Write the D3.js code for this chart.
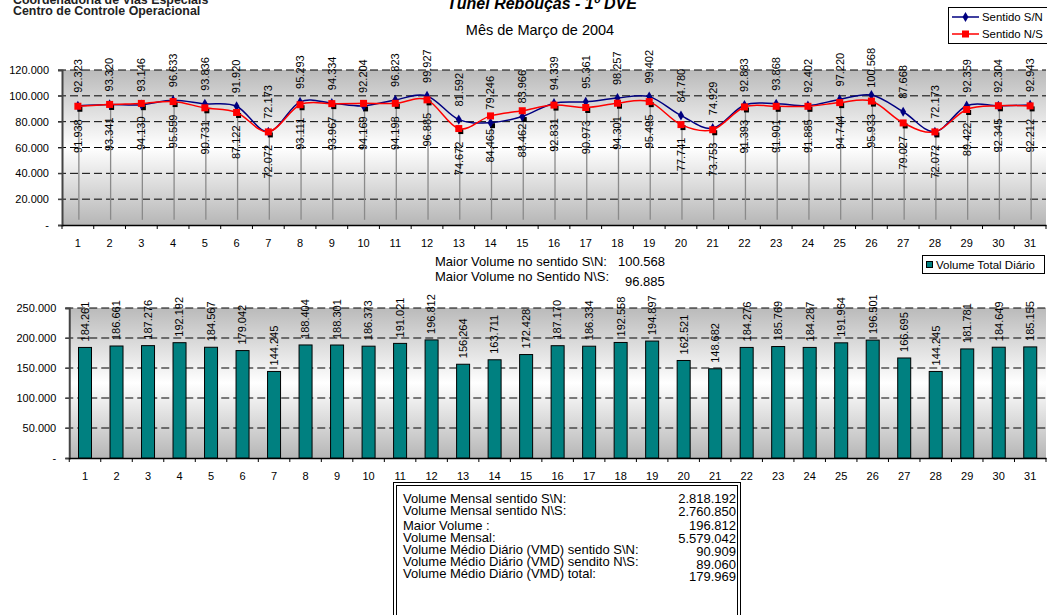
<!DOCTYPE html>
<html><head><meta charset="utf-8">
<script src="https://cdn.jsdelivr.net/npm/d3@7"></script>
<style>
body{margin:0;background:#fff;}
svg{display:block;font-family:"Liberation Sans",Arial,sans-serif;}
</style></head>
<body><svg id="c" width="1047" height="615"></svg>
<script>
const days = d3.range(1, 32).map(String);
const sentidoSN = [92323,93320,93146,96633,93836,91920,72173,95293,94334,92204,96823,99927,81592,79246,83966,94339,95361,98257,99402,84780,74929,92883,93868,92402,97220,100568,87668,72173,92359,92304,92943];
const sentidoNS = [91938,93341,94130,95559,90731,87122,72072,93111,93967,94169,94198,96885,74672,84465,88462,92831,90973,94301,95495,77741,73753,91393,91901,91885,94744,95933,79027,72072,89422,92345,92212];
const volumeTotal = [184261,186661,187276,192192,184567,179042,144245,188404,188301,186373,191021,196812,156264,163711,172428,187170,186334,192558,194897,162521,148682,184276,185769,184287,191964,196501,166695,144245,181781,184649,185155];
const topTicks = [0,20000,40000,60000,80000,100000,120000];
const bottomTicks = [0,50000,100000,150000,200000,250000];
const tableLabels = ["Volume Mensal sentido S\\N:","Volume Mensal sentido N\\S:","Maior Volume :","Volume Mensal:","Volume Médio Diário (VMD) sentido S\\N:","Volume Médio Diário (VMD) sendito N\\S:","Volume Médio Diário (VMD) total:"];
const tableValues = ["2.818.192","2.760.850","196.812","5.579.042","90.909","89.060","179.969"];
const seriesNames = ["Sentido S/N","Sentido N/S"];

const loc = d3.formatLocale({decimal:",",thousands:".",grouping:[3],currency:["",""]});
const fmt = loc.format(",d");
const tickFmt = v => v === 0 ? "-" : fmt(v);

const svg = d3.select("#c");
const defs = svg.append("defs");
const grad = defs.append("linearGradient").attr("id","bg").attr("x1",0).attr("y1",0).attr("x2",0).attr("y2",1);
grad.append("stop").attr("offset","0%").attr("stop-color","#bababa");
grad.append("stop").attr("offset","50%").attr("stop-color","#ffffff");
grad.append("stop").attr("offset","100%").attr("stop-color","#b6b6b6");

// header texts
svg.append("text").attr("x",13).attr("y",4).attr("font-weight","bold").attr("font-size",12.4).attr("fill","#222").text("Coordenadoria de Vias Especiais");
svg.append("text").attr("x",13).attr("y",15).attr("font-weight","bold").attr("font-size",12.4).attr("fill","#222").text("Centro de Controle Operacional");
svg.append("text").attr("x",542).attr("y",9).attr("text-anchor","middle").attr("font-weight","bold").attr("font-style","italic").attr("font-size",16).text("Túnel Rebouças - 1º DVE");
svg.append("text").attr("x",540).attr("y",35).attr("text-anchor","middle").attr("font-size",14.5).text("Mês de Março de 2004");

function frame(g, x, y, ticks, left, right, top, bottom) {
  g.append("rect").attr("x",left).attr("y",top).attr("width",right-left).attr("height",bottom-top).attr("fill","url(#bg)");
  ticks.filter(t=>t>0).forEach(t=>{
    g.append("line").attr("x1",left-4).attr("x2",right).attr("y1",y(t)).attr("y2",y(t))
      .attr("stroke","#000").attr("stroke-width",1).attr("stroke-dasharray","8,4");
  });
  const ya = g.append("g").attr("transform",`translate(${left},0)`)
    .call(d3.axisLeft(y).tickValues(ticks).tickFormat(tickFmt).tickSize(4).tickPadding(9));
  ya.select(".domain").attr("stroke","#444").attr("stroke-width",2);
  ya.selectAll(".tick line").attr("stroke","#444");
  ya.selectAll("text").attr("font-size",11).attr("font-family","Liberation Sans, Arial, sans-serif").attr("fill","#000");
  const xa = g.append("g").attr("transform",`translate(0,${bottom})`)
    .call(d3.axisBottom(x).tickSize(0).tickPadding(14));
  xa.select(".domain").attr("stroke","#000").attr("stroke-width",1.5);
  xa.selectAll("text").attr("font-size",11).attr("font-family","Liberation Sans, Arial, sans-serif").attr("fill","#000");
  g.selectAll(null).data(d3.range(0,32)).enter().append("line")
    .attr("x1",i=>left+i*x.step()).attr("x2",i=>left+i*x.step())
    .attr("y1",bottom).attr("y2",bottom+4).attr("stroke","#000");
}

// ---------- top chart ----------
const tL=62,tR=1046,tT=70,tB=225;
const xT = d3.scaleBand().domain(days).range([tL,tR]).padding(0);
const yT = d3.scaleLinear().domain([0,120000]).range([tB,tT]);
const gT = svg.append("g");
frame(gT,xT,yT,topTicks,tL,tR,tT,tB);
const cx = d => xT(d)+xT.bandwidth()/2;

days.forEach((d,i)=>{
  const m = Math.min(sentidoSN[i],sentidoNS[i]);
  gT.append("line").attr("x1",cx(d)+1).attr("x2",cx(d)+1).attr("y1",yT(m)+3).attr("y2",yT(4000))
    .attr("stroke","#8a8a8a").attr("stroke-width",1.3);
  gT.append("rect").attr("x",cx(d)-0.5).attr("y",yT(m)+0.5).attr("width",5).attr("height",5).attr("fill","#000");
});

const line = d3.line().x((v,i)=>cx(days[i])).y(v=>yT(v)).curve(d3.curveCardinal.tension(0));
gT.append("path").attr("d",line(sentidoSN)).attr("fill","none").attr("stroke","#000080").attr("stroke-width",1.5);
gT.append("path").attr("d",line(sentidoNS)).attr("fill","none").attr("stroke","#ff0000").attr("stroke-width",1.5);
gT.selectAll(null).data(sentidoSN).enter().append("path")
  .attr("d",d3.symbol(d3.symbolDiamond,30)).attr("transform",(v,i)=>`translate(${cx(days[i])},${yT(v)})`).attr("fill","#000080");
gT.selectAll(null).data(sentidoNS).enter().append("rect")
  .attr("x",(v,i)=>cx(days[i])-3.5).attr("y",v=>yT(v)-3.5).attr("width",7).attr("height",7).attr("fill","#ff0000");

const gap = 13;
sentidoSN.forEach((v,i)=>{
  const t = gT.append("text").attr("font-size",11).attr("dy","0.35em").attr("text-anchor","start").text(fmt(v));
  const len = t.node().getComputedTextLength();
  let yy = yT(v)-gap;
  if (yy-len < 48) yy = 48+len;
  t.attr("transform",`translate(${cx(days[i])},${yy}) rotate(-90)`);
});
sentidoNS.forEach((v,i)=>{
  gT.append("text").attr("font-size",11).attr("dy","0.35em").attr("text-anchor","end")
    .attr("transform",`translate(${cx(days[i])},${yT(v)+gap}) rotate(-90)`).text(fmt(v));
});

// legend top
const lg = svg.append("g");
lg.append("rect").attr("x",948.5).attr("y",7.5).attr("width",110).attr("height",36).attr("fill","#fff").attr("stroke","#000");
lg.append("line").attr("x1",952).attr("x2",979).attr("y1",17).attr("y2",17).attr("stroke","#000080").attr("stroke-width",1.5);
lg.append("path").attr("d",d3.symbol(d3.symbolDiamond,30)).attr("transform","translate(965.5,17)").attr("fill","#000080");
lg.append("text").attr("x",982).attr("y",21).attr("font-size",11.4).text(seriesNames[0]);
lg.append("line").attr("x1",952).attr("x2",979).attr("y1",34).attr("y2",34).attr("stroke","#ff0000").attr("stroke-width",1.5);
lg.append("rect").attr("x",962).attr("y",30.5).attr("width",7).attr("height",7).attr("fill","#ff0000");
lg.append("text").attr("x",982).attr("y",38).attr("font-size",11.4).text(seriesNames[1]);

// middle texts
svg.append("text").attr("x",435).attr("y",266).attr("font-size",13).text("Maior Volume no sentido S\\N:");
svg.append("text").attr("x",618).attr("y",266).attr("font-size",13).text(fmt(d3.max(sentidoSN)));
svg.append("text").attr("x",435).attr("y",281).attr("font-size",13).text("Maior Volume no Sentido N\\S:");
svg.append("text").attr("x",625).attr("y",286).attr("font-size",13).text(fmt(d3.max(sentidoNS)));

// ---------- bottom chart ----------
const bL=69.25,bR=1046,bT=308,bB=458;
const xB = d3.scaleBand().domain(days).range([bL,bR]).padding(0);
const yB = d3.scaleLinear().domain([0,250000]).range([bB,bT]);
const gB = svg.append("g");
frame(gB,xB,yB,bottomTicks,bL,bR,bT,bB);
const bw = 13;
gB.selectAll(null).data(volumeTotal).enter().append("rect")
  .attr("x",(v,i)=>xB(days[i])+xB.bandwidth()/2-bw/2).attr("y",v=>yB(v))
  .attr("width",bw).attr("height",v=>bB-yB(v))
  .attr("fill","#008080").attr("stroke","#000").attr("stroke-width",1);
gB.selectAll(null).data(volumeTotal).enter().append("text")
  .attr("font-size",11).attr("dy","0.35em").attr("text-anchor","start")
  .attr("transform",(v,i)=>`translate(${xB(days[i])+xB.bandwidth()/2},${yB(v)-6}) rotate(-90)`)
  .text(v=>fmt(v));

// legend bottom
const lb = svg.append("g");
lb.append("rect").attr("x",922.5).attr("y",255.5).attr("width",122).attr("height",18).attr("fill","#fff").attr("stroke","#000");
lb.append("rect").attr("x",926.5).attr("y",261.5).attr("width",6).attr("height",6).attr("fill","#008080").attr("stroke","#000");
lb.append("text").attr("x",936).attr("y",269).attr("font-size",11.5).text("Volume Total Diário");

// ---------- table ----------
const tb = svg.append("g");
tb.append("rect").attr("x",393.5).attr("y",482.5).attr("width",347).attr("height",150).attr("fill","#fff").attr("stroke","#000").attr("stroke-width",1);
tb.append("rect").attr("x",396.5).attr("y",485.5).attr("width",341).attr("height",150).attr("fill","none").attr("stroke","#000").attr("stroke-width",1);
const rowY = [503,515,530,542,554,566,578];
const valY = [503,516,530,543,556,569,581];
tableLabels.forEach((t,i)=>{
  tb.append("text").attr("x",403).attr("y",rowY[i]).attr("font-size",13).text(t);
  tb.append("text").attr("x",736).attr("y",valY[i]).attr("font-size",13).attr("text-anchor","end").text(tableValues[i]);
});
</script></body></html>
